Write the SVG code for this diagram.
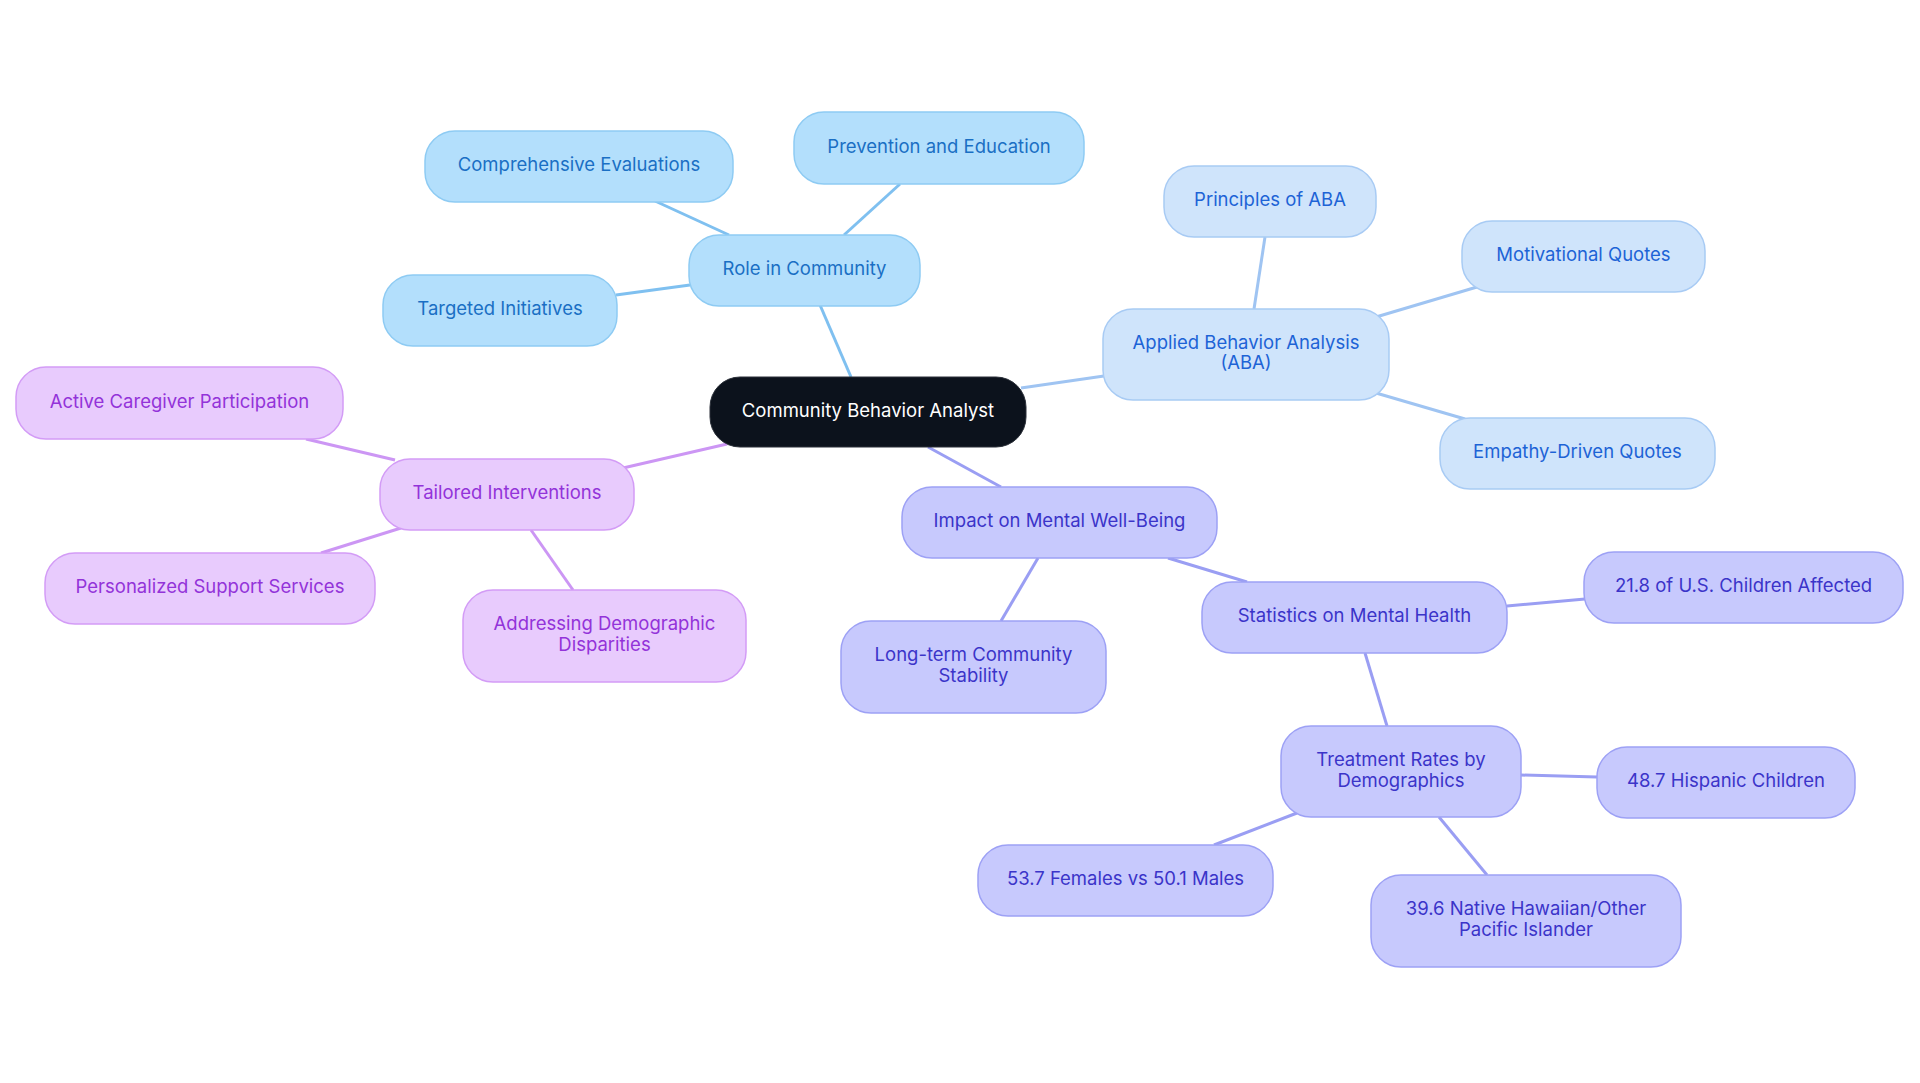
<svg xmlns="http://www.w3.org/2000/svg" width="1920" height="1083" viewBox="0 0 1920 1083">
<style>
text{font-family:Inter,"Noto Sans","Liberation Sans",sans-serif;font-size:18.5px;text-anchor:middle;dominant-baseline:central}
.b rect{fill:#b3dffc;stroke:#8ecbf3;stroke-width:1.5}
.b text{fill:#1a6fc4}
.a rect{fill:#cfe4fb;stroke:#a8cbf4;stroke-width:1.5}
.a text{fill:#1d63d6}
.p rect{fill:#e8cbfd;stroke:#d39cf6;stroke-width:1.5}
.p text{fill:#9333d9}
.i rect{fill:#c7c9fd;stroke:#9da1f5;stroke-width:1.5}
.i text{fill:#3b34c9}
.r rect{fill:#0c121c;stroke:#2a2f38;stroke-width:1}
.r text{fill:#ffffff}
#edges line{stroke-width:3}
.eb{stroke:#7fc0f0}.ea{stroke:#9fc4f2}.ep{stroke:#cc96f4}.ei{stroke:#9a9ef3}
</style>
<rect width="1920" height="1083" fill="#ffffff"/>
<g id="edges">
<line class="eb" x1="820" y1="305" x2="851" y2="377"/>
<line class="eb" x1="655" y1="201" x2="729" y2="235"/>
<line class="eb" x1="900" y1="184" x2="844" y2="235"/>
<line class="eb" x1="616" y1="295" x2="690" y2="285"/>
<line class="ea" x1="1021" y1="388" x2="1104" y2="376"/>
<line class="ea" x1="1254" y1="309" x2="1265" y2="237"/>
<line class="ea" x1="1376" y1="317" x2="1477" y2="287"/>
<line class="ea" x1="1376" y1="393" x2="1465" y2="419"/>
<line class="ep" x1="623" y1="468" x2="727" y2="444"/>
<line class="ep" x1="306" y1="439" x2="395" y2="460"/>
<line class="ep" x1="401" y1="528" x2="321" y2="553"/>
<line class="ep" x1="531" y1="530" x2="573" y2="590"/>
<line class="ei" x1="928" y1="447" x2="1001" y2="487"/>
<line class="ei" x1="1038" y1="558" x2="1001" y2="621"/>
<line class="ei" x1="1168" y1="558" x2="1247" y2="582"/>
<line class="ei" x1="1507" y1="606" x2="1585" y2="599"/>
<line class="ei" x1="1365" y1="653" x2="1387" y2="726"/>
<line class="ei" x1="1521" y1="775" x2="1597" y2="777"/>
<line class="ei" x1="1297" y1="813" x2="1214" y2="845"/>
<line class="ei" x1="1439" y1="817" x2="1487" y2="875"/>
</g>
<g id="root" class="r"><rect x="710" y="377" width="316" height="70" rx="30"/><text x="868" y="409.5">Community Behavior Analyst</text></g>
<g id="role" class="b"><rect x="689" y="235" width="231" height="71" rx="30"/><text x="804.5" y="268">Role in Community</text></g>
<g id="comp" class="b"><rect x="425" y="131" width="308" height="71" rx="30"/><text x="579" y="164">Comprehensive Evaluations</text></g>
<g id="prev" class="b"><rect x="794" y="112" width="290" height="72" rx="30"/><text x="939" y="145.5">Prevention and Education</text></g>
<g id="targ" class="b"><rect x="383" y="275" width="234" height="71" rx="30"/><text x="500" y="308">Targeted Initiatives</text></g>
<g id="aba" class="a"><rect x="1103" y="309" width="286" height="91" rx="30"/><text x="1246" y="341.5">Applied Behavior Analysis</text><text x="1246" y="362">(ABA)</text></g>
<g id="princ" class="a"><rect x="1164" y="166" width="212" height="71" rx="30"/><text x="1270" y="199">Principles of ABA</text></g>
<g id="motiv" class="a"><rect x="1462" y="221" width="243" height="71" rx="30"/><text x="1583.5" y="254">Motivational Quotes</text></g>
<g id="empathy" class="a"><rect x="1440" y="418" width="275" height="71" rx="30"/><text x="1577.5" y="451">Empathy-Driven Quotes</text></g>
<g id="tailored" class="p"><rect x="380" y="459" width="254" height="71" rx="30"/><text x="507" y="492">Tailored Interventions</text></g>
<g id="active" class="p"><rect x="16" y="367" width="327" height="72" rx="30"/><text x="179.5" y="400.5">Active Caregiver Participation</text></g>
<g id="personal" class="p"><rect x="45" y="553" width="330" height="71" rx="30"/><text x="210" y="586">Personalized Support Services</text></g>
<g id="addressing" class="p"><rect x="463" y="590" width="283" height="92" rx="30"/><text x="604.5" y="622.5">Addressing Demographic</text><text x="604.5" y="643.5">Disparities</text></g>
<g id="impact" class="i"><rect x="902" y="487" width="315" height="71" rx="30"/><text x="1059.5" y="520">Impact on Mental Well-Being</text></g>
<g id="longterm" class="i"><rect x="841" y="621" width="265" height="92" rx="30"/><text x="973.5" y="653.5">Long-term Community</text><text x="973.5" y="674.5">Stability</text></g>
<g id="stats" class="i"><rect x="1202" y="582" width="305" height="71" rx="30"/><text x="1354.5" y="615">Statistics on Mental Health</text></g>
<g id="c218" class="i"><rect x="1584" y="552" width="319" height="71" rx="30"/><text x="1743.5" y="585">21.8 of U.S. Children Affected</text></g>
<g id="treat" class="i"><rect x="1281" y="726" width="240" height="91" rx="30"/><text x="1401" y="758.5">Treatment Rates by</text><text x="1401" y="779.5">Demographics</text></g>
<g id="h487" class="i"><rect x="1597" y="747" width="258" height="71" rx="30"/><text x="1726" y="780">48.7 Hispanic Children</text></g>
<g id="f537" class="i"><rect x="978" y="845" width="295" height="71" rx="30"/><text x="1125.5" y="878">53.7 Females vs 50.1 Males</text></g>
<g id="n396" class="i"><rect x="1371" y="875" width="310" height="92" rx="30"/><text x="1526" y="907.5">39.6 Native Hawaiian/Other</text><text x="1526" y="928.5">Pacific Islander</text></g>
</svg>
